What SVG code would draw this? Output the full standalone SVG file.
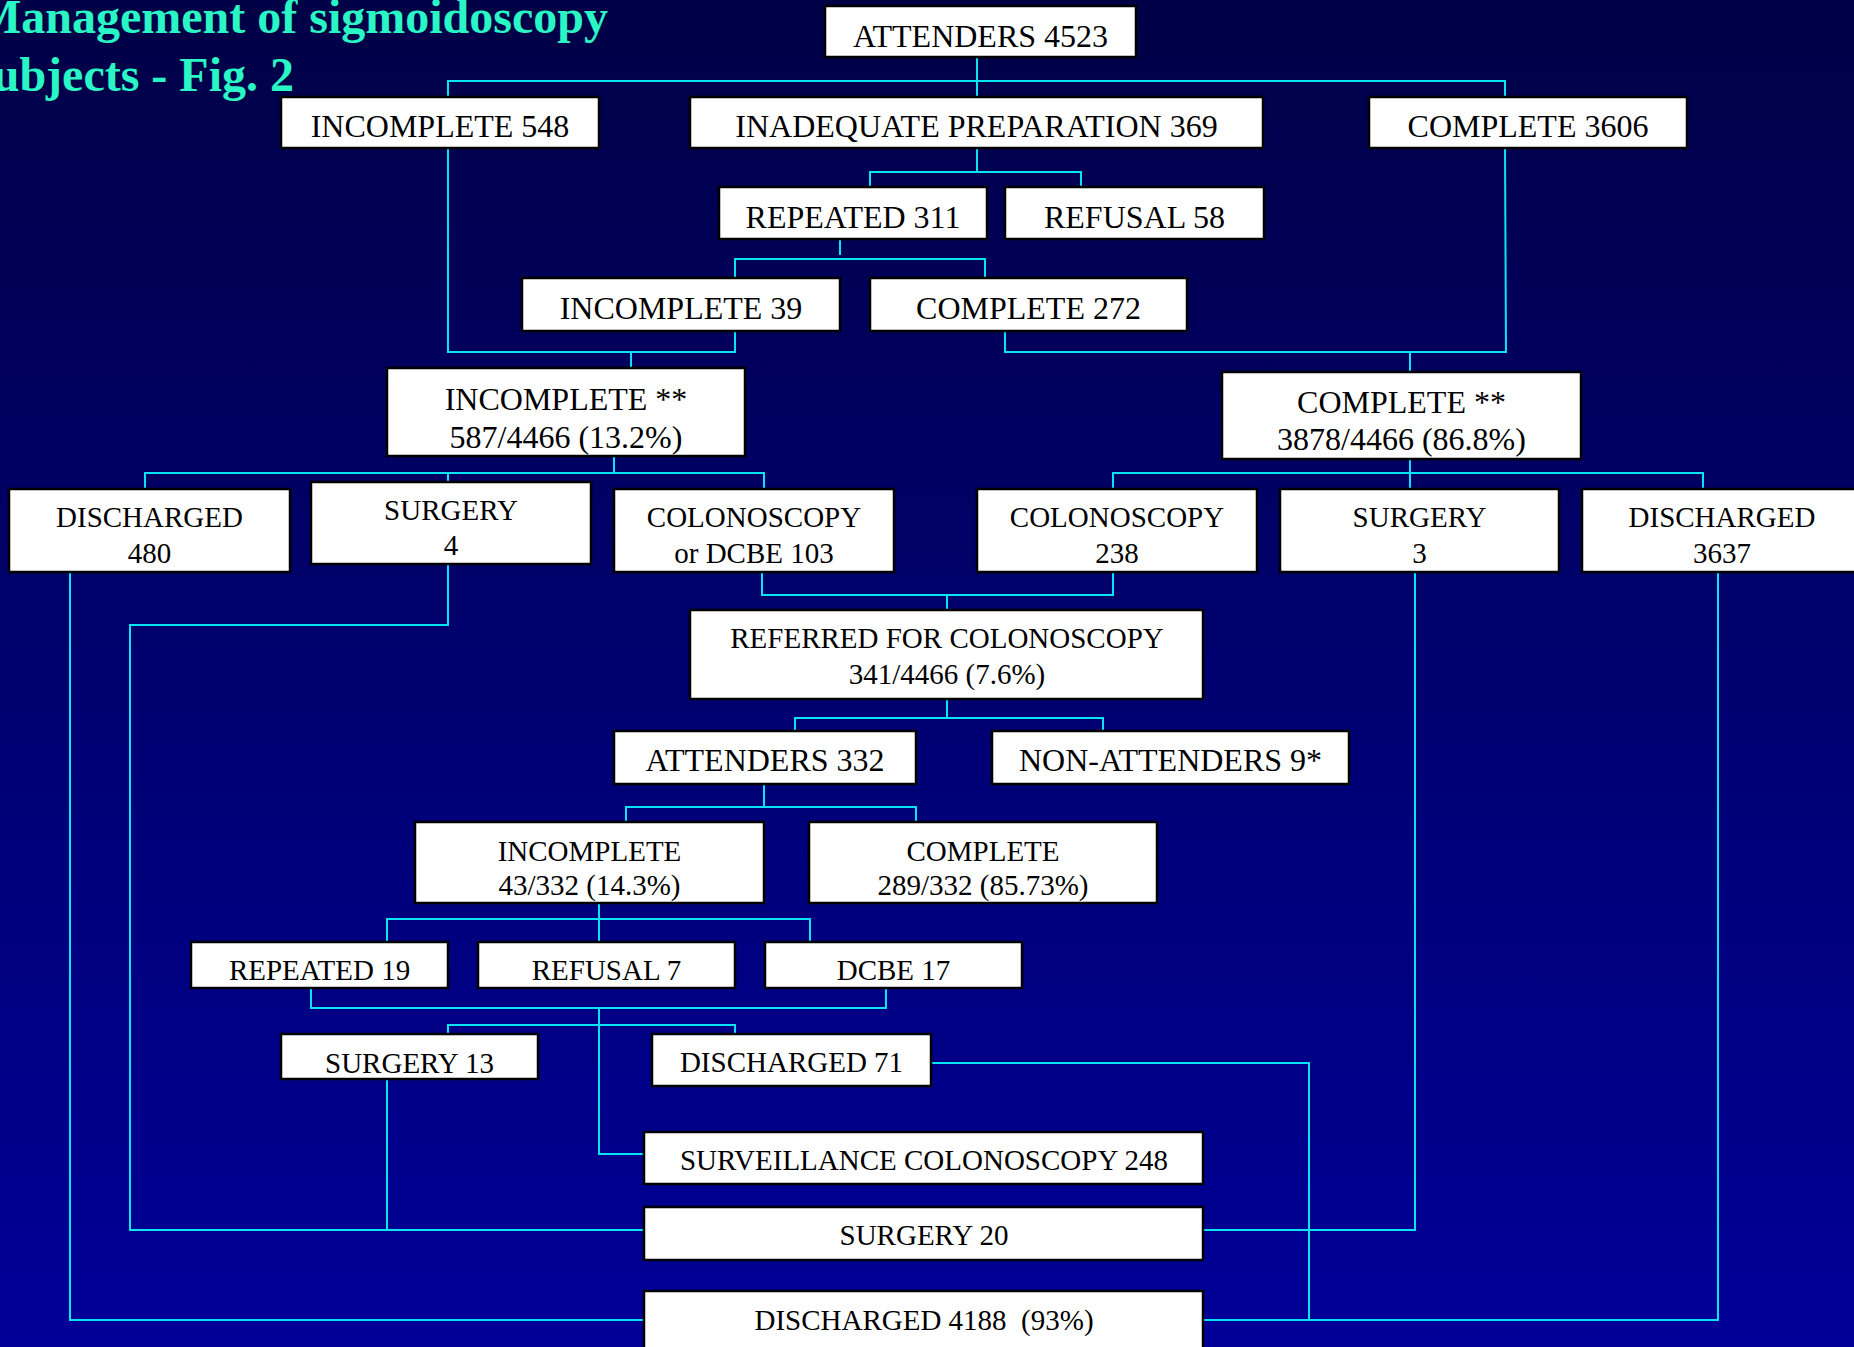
<svg xmlns="http://www.w3.org/2000/svg" width="1854" height="1347" viewBox="0 0 1854 1347">
<defs>
<linearGradient id="bg" x1="0" y1="0" x2="0" y2="1">
<stop offset="0" stop-color="#000046"/>
<stop offset="1" stop-color="#000098"/>
</linearGradient>
<style>
.box{fill:#ffffff;stroke:#000000;stroke-width:2.5}
.t{font-family:"Liberation Serif","Times New Roman",serif;fill:#000;text-anchor:middle}
.l{font-size:32px}
.s{font-size:29px}
.title{font-family:"Liberation Serif","Times New Roman",serif;font-weight:bold;font-size:48px;fill:#2af5c5}
.c{fill:none;stroke:#08e4f4;stroke-width:2}
</style>
</defs>
<rect width="1854" height="1347" fill="url(#bg)"/>
<g id="title">
<text class="title" x="-24" y="33">Management of sigmoidoscopy</text>
<text class="title" x="-34" y="91">Subjects - Fig. 2</text>
</g>
<g id="connectors" class="c">
<path d="M977,57 V97"/>
<path d="M448,97 V81 H1505 V97"/>
<path d="M977,148 V172"/>
<path d="M870,187 V172 H1081 V187"/>
<path d="M840,239 V255"/>
<path d="M735,277 V259 H985 V277"/>
<path d="M448,148 V352 H735 V331"/>
<path d="M631,352 V368"/>
<path d="M1505,148 L1506,352 H1005 V331"/>
<path d="M1410,352 V372"/>
<path d="M614,456 V473"/>
<path d="M145,489 V473 H764 V489"/>
<path d="M448,473 V482"/>
<path d="M1410,459 V489"/>
<path d="M1113,489 V473 H1703 V489"/>
<path d="M762,572 V595 H1113 V572"/>
<path d="M947,595 V610"/>
<path d="M947,699 V718"/>
<path d="M795,731 V718 H1103 V731"/>
<path d="M764,784 V807"/>
<path d="M626,822 V807 H916 V822"/>
<path d="M599,903 V942"/>
<path d="M387,942 V919 H810 V942"/>
<path d="M311,988 V1008 H886 V988"/>
<path d="M599,1008 V1154 H644"/>
<path d="M448,1034 V1025 H735 V1034"/>
<path d="M448,564 V625 H130 V1230 H644"/>
<path d="M387,1079 V1230"/>
<path d="M70,572 V1320 H644"/>
<path d="M1203,1230 H1415 V572"/>
<path d="M1203,1320 H1718 V572"/>
<path d="M931,1063 H1309 V1320"/>
</g>
<g id="n-attenders4523"><rect class="box" x="825" y="6" width="311" height="51"/><text class="t l" x="980.5" y="47">ATTENDERS 4523</text></g>
<g id="n-incomplete548"><rect class="box" x="281" y="97" width="318" height="51"/><text class="t l" x="440" y="137">INCOMPLETE 548</text></g>
<g id="n-inadequate"><rect class="box" x="690" y="97" width="573" height="51"/><text class="t l" x="976.5" y="137">INADEQUATE PREPARATION 369</text></g>
<g id="n-complete3606"><rect class="box" x="1369" y="97" width="318" height="51"/><text class="t l" x="1528" y="137">COMPLETE 3606</text></g>
<g id="n-repeated311"><rect class="box" x="719" y="187" width="268" height="52"/><text class="t l" x="853" y="228">REPEATED 311</text></g>
<g id="n-refusal58"><rect class="box" x="1005" y="187" width="259" height="52"/><text class="t l" x="1134.5" y="228">REFUSAL 58</text></g>
<g id="n-incomplete39"><rect class="box" x="522" y="278" width="318" height="53"/><text class="t l" x="681" y="319">INCOMPLETE 39</text></g>
<g id="n-complete272"><rect class="box" x="870" y="278" width="317" height="53"/><text class="t l" x="1028.5" y="319">COMPLETE 272</text></g>
<g id="n-incompleteall"><rect class="box" x="387" y="368" width="358" height="88"/><text class="t l" x="566" y="410">INCOMPLETE **</text><text class="t l" x="566" y="448">587/4466 (13.2%)</text></g>
<g id="n-completeall"><rect class="box" x="1222" y="372" width="359" height="87"/><text class="t l" x="1401.5" y="413">COMPLETE **</text><text class="t l" x="1401.5" y="450">3878/4466 (86.8%)</text></g>
<g id="n-discharged480"><rect class="box" x="9" y="489" width="281" height="83"/><text class="t s" x="149.5" y="527">DISCHARGED</text><text class="t s" x="149.5" y="563">480</text></g>
<g id="n-surgery4"><rect class="box" x="311" y="482" width="280" height="82"/><text class="t s" x="451" y="520">SURGERY</text><text class="t s" x="451" y="555">4</text></g>
<g id="n-colonoscopy103"><rect class="box" x="614" y="489" width="280" height="83"/><text class="t s" x="754" y="527">COLONOSCOPY</text><text class="t s" x="754" y="563">or DCBE 103</text></g>
<g id="n-colonoscopy238"><rect class="box" x="977" y="489" width="280" height="83"/><text class="t s" x="1117" y="527">COLONOSCOPY</text><text class="t s" x="1117" y="563">238</text></g>
<g id="n-surgery3"><rect class="box" x="1280" y="489" width="279" height="83"/><text class="t s" x="1419.5" y="527">SURGERY</text><text class="t s" x="1419.5" y="563">3</text></g>
<g id="n-discharged3637"><rect class="box" x="1582" y="489" width="280" height="83"/><text class="t s" x="1722" y="527">DISCHARGED</text><text class="t s" x="1722" y="563">3637</text></g>
<g id="n-referred"><rect class="box" x="690" y="610" width="513" height="89"/><text class="t s" x="947" y="648">REFERRED FOR COLONOSCOPY</text><text class="t s" x="947" y="684">341/4466 (7.6%)</text></g>
<g id="n-attenders332"><rect class="box" x="614" y="731" width="302" height="53"/><text class="t l" x="765" y="771">ATTENDERS 332</text></g>
<g id="n-nonattenders"><rect class="box" x="992" y="731" width="357" height="53"/><text class="t l" x="1170.5" y="771">NON-ATTENDERS 9*</text></g>
<g id="n-incomplete43"><rect class="box" x="415" y="822" width="349" height="81"/><text class="t s" x="589.5" y="861">INCOMPLETE</text><text class="t s" x="589.5" y="895">43/332 (14.3%)</text></g>
<g id="n-complete289"><rect class="box" x="809" y="822" width="348" height="81"/><text class="t s" x="983" y="861">COMPLETE</text><text class="t s" x="983" y="895">289/332 (85.73%)</text></g>
<g id="n-repeated19"><rect class="box" x="191" y="942" width="257" height="46"/><text class="t s" x="319.5" y="980">REPEATED 19</text></g>
<g id="n-refusal7"><rect class="box" x="478" y="942" width="257" height="46"/><text class="t s" x="606.5" y="980">REFUSAL 7</text></g>
<g id="n-dcbe17"><rect class="box" x="765" y="942" width="257" height="46"/><text class="t s" x="893.5" y="980">DCBE 17</text></g>
<g id="n-surgery13"><rect class="box" x="281" y="1034" width="257" height="45"/><text class="t s" x="409.5" y="1073">SURGERY 13</text></g>
<g id="n-discharged71"><rect class="box" x="652" y="1034" width="279" height="52"/><text class="t s" x="791.5" y="1072">DISCHARGED 71</text></g>
<g id="n-surveillance"><rect class="box" x="644" y="1132" width="559" height="52"/><text class="t s" x="924" y="1170">SURVEILLANCE COLONOSCOPY 248</text></g>
<g id="n-surgery20"><rect class="box" x="644" y="1207" width="559" height="53"/><text class="t s" x="924" y="1245">SURGERY 20</text></g>
<g id="n-discharged4188"><rect class="box" x="644" y="1291" width="559" height="70"/><text class="t s" x="924" y="1330" xml:space="preserve">DISCHARGED 4188  (93%)</text></g>
</svg>
